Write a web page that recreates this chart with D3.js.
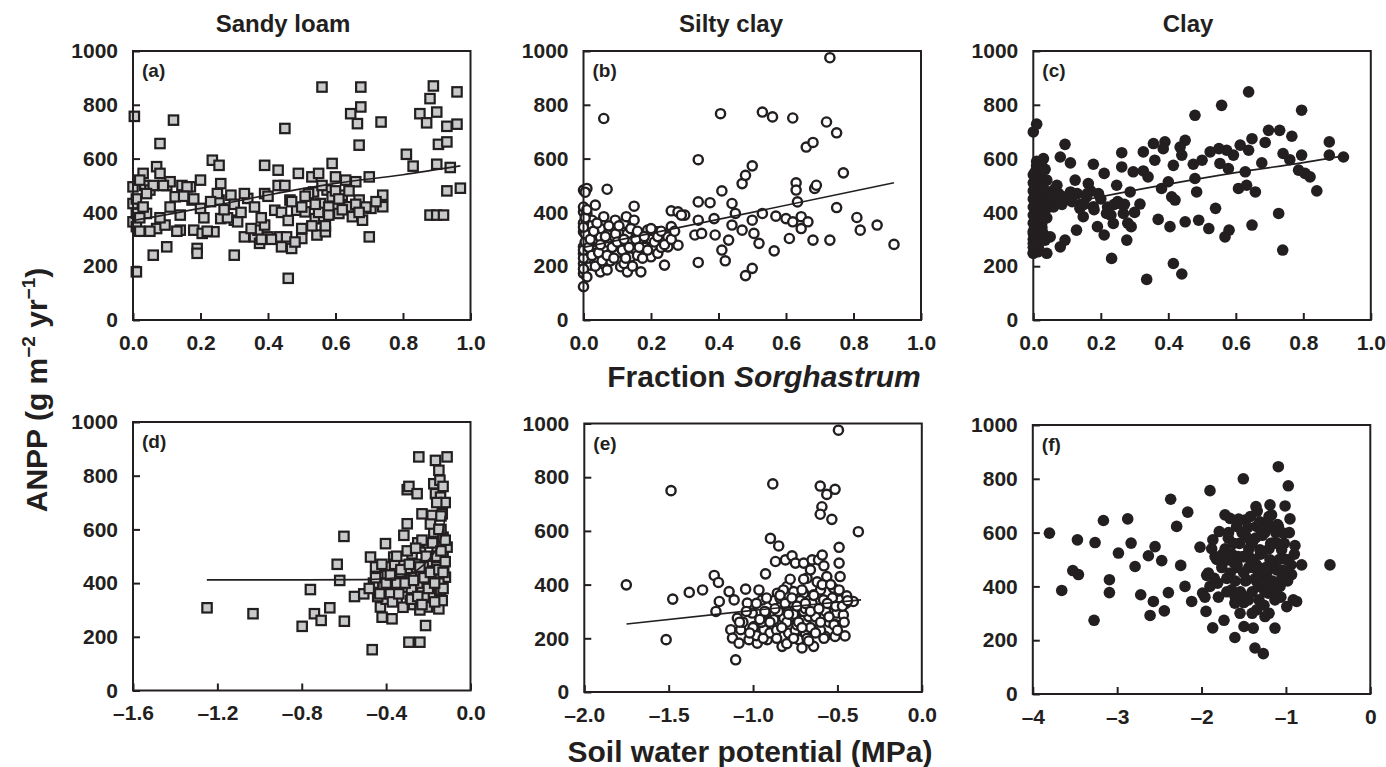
<!DOCTYPE html>
<html>
<head>
<meta charset="utf-8">
<script src="https://cdn.jsdelivr.net/npm/d3@7"></script>
<style>
  html, body { margin: 0; padding: 0; background: #fff; }
  svg { display: block; font-family: "Liberation Sans", Arial, Helvetica, sans-serif; }
</style>
</head>
<body>
<svg id="chart" width="1386" height="767"></svg>
<script>
// ---------------- DATA ----------------
const soilTypes = ["Sandy loam", "Silty clay", "Clay"];
const panelLetters = ["(a)", "(b)", "(c)", "(d)", "(e)", "(f)"];
const yTickValues = [0, 200, 400, 600, 800, 1000];
const yTickLabels = ["0", "200", "400", "600", "800", "1000"];
const fracTickValues = [0, 0.2, 0.4, 0.6, 0.8, 1.0];
const fracTickLabels = ["0.0", "0.2", "0.4", "0.6", "0.8", "1.0"];
const swpSandyTickValues = [-1.6, -1.2, -0.8, -0.4, 0.0];
const swpSandyTickLabels = ["–1.6", "–1.2", "–0.8", "–0.4", "0.0"];
const swpSiltyTickValues = [-2.0, -1.5, -1.0, -0.5, 0.0];
const swpSiltyTickLabels = ["–2.0", "–1.5", "–1.0", "–0.5", "0.0"];
const swpClayTickValues = [-4, -3, -2, -1, 0];
const swpClayTickLabels = ["–4", "–3", "–2", "–1", "0"];

// (a) Sandy loam: fraction Sorghastrum vs ANPP
const sandyFracX = [0.004,0.01,0,0,0,0.01,0.01,0.03,0.035,0.04,0.05,0.06,0.07,0.08,0.08,0.07,0.095,0.10,0.10,0.12,0.11,0.125,0.14,0.145,0.17,0.175,0.18,0.19,0.19,0.2,0.2,0.205,0.24,0.235,0.255,0.26,0.255,0.26,0.29,0.3,0.3,0.31,0.33,0.34,0.36,0.37,0.375,0.39,0.39,0.39,0.40,0.42,0.43,0.43,0.435,0.44,0.45,0.455,0.46,0.465,0.47,0.485,0.49,0.5,0.5,0.51,0.53,0.535,0.54,0.545,0.55,0.555,0.56,0.565,0.57,0.575,0.59,0.59,0.60,0.60,0.61,0.62,0.64,0.645,0.65,0.66,0.665,0.67,0.67,0.675,0.675,0.68,0.70,0.70,0.705,0.735,0.74,0.74,0.81,0.83,0.85,0.87,0.88,0.89,0.90,0.90,0.905,0.93,0.93,0.93,0.94,0.96,0.96,0.97,0.88,0.90,0.92,0.02,0.06,0.09,0.16,0.02,0.05,0.13,0.15,0.22,0.25,0.28,0.35,0.38,0.41,0.45,0.47,0.52,0.55,0.58,0.6,0.62,0.57,0.66,0.69,0.02,0.27,0.33,0.48,0.53,0.63,
  0.01,0.03,0.04,0.08,0.11,0.14,0.18,0.21,0.23,0.3,0.32,0.36,0.38,0.4,0.44,0.46,0.5,0.51,0.54,0.56,0.58,0.61,0.64,0.67,0.72];
const sandyFracY = [757,179,495,433,365,396,347,545,500,396,483,241,570,545,656,340,353,272,500,743,514,458,334,500,495,446,334,266,248,520,415,322,328,594,575,507,446,377,464,371,241,365,309,452,309,334,285,575,470,353,309,408,557,500,309,272,712,309,155,446,266,408,545,340,303,402,532,476,377,316,545,433,866,377,328,483,582,458,532,421,396,464,421,767,384,514,730,650,446,866,792,371,532,309,415,736,464,421,616,572,767,733,823,870,773,579,653,662,720,480,567,848,728,490,390,390,390,520,500,500,495,330,330,330,460,330,470,380,340,300,300,500,440,470,400,420,480,410,350,430,420,380,410,470,290,350,520,
  450,420,470,380,420,390,450,380,440,430,400,420,380,460,400,370,420,460,430,500,390,450,480,400,440];
const sandyFracFitX = [0, 0.2, 0.4, 0.6, 0.8, 0.97];
const sandyFracFitY = [370, 415, 465, 508, 540, 573];

// (b) Silty clay
const siltyFracX = [0,0,0.01,0,0.01,0,0,0,0,0,0.01,0.02,0.025,0.035,0.04,0.05,0.05,0.06,0.06,0.064,0.07,0.07,0.08,0.084,0.094,0.104,0.11,0.114,0.12,0.127,0.13,0.14,0.15,0.15,0.155,0.163,0.17,0.173,0.19,0.20,0.22,0.22,0.24,0.25,0.25,0.26,0.26,0.28,0.28,0.30,0.33,0.34,0.34,0.34,0.34,0.35,0.375,0.387,0.39,0.406,0.41,0.41,0.42,0.43,0.44,0.44,0.45,0.47,0.47,0.48,0.48,0.50,0.50,0.50,0.505,0.52,0.53,0.53,0.56,0.565,0.57,0.60,0.61,0.62,0.62,0.63,0.63,0.634,0.645,0.645,0.66,0.665,0.68,0.68,0.685,0.69,0.72,0.73,0.73,0.75,0.75,0.77,0.81,0.82,0.87,0.92,0.01,0.02,0.03,0.02,0.05,0.06,0.08,0.09,0.1,0.12,0.13,0.14,0.16,0.17,0.18,0.2,0.21,0.23,0,0,0,0.01,0.005,0.03,0.04,0.07,0.11,0.01,
  0.0,0.0,0.005,0.005,0.0,0.005,0.01,0.015,0.02,0.025,0.03,0.035,0.04,0.045,0.05,0.055,0.065,0.07,0.075,0.085,0.09,0.095,0.1,0.105,0.115,0.12,0.125,0.135,0.14,0.145,0.155,0.16,0.165,0.175,0.18,0.19,0.2,0.21,0.22,0.23,0.24,0.26,0.27,0.29];
const siltyFracY = [124,483,489,402,396,328,272,210,173,248,223,204,371,427,297,309,179,384,749,204,486,186,260,347,371,322,198,285,359,384,179,235,423,371,260,309,179,260,334,235,328,248,204,309,272,347,406,402,278,390,316,439,371,596,214,322,436,377,316,767,480,260,220,297,433,353,396,507,334,538,165,573,192,371,322,285,396,773,755,257,386,377,303,365,751,510,483,439,384,340,643,365,660,297,489,501,736,297,975,696,418,547,381,334,353,281,300,350,260,230,340,270,220,300,250,210,320,290,240,300,270,300,330,270,360,420,190,160,475,330,250,290,270,230,
  230,260,290,320,345,380,410,270,300,240,330,200,360,250,280,220,310,240,350,270,230,320,290,350,260,300,230,270,340,200,300,330,270,230,310,260,340,290,310,330,280,300,330,390];
const siltyFracFitX = [0, 0.92];
const siltyFracFitY = [270, 510];

// (c) Clay
const clayFracX = [0,0.01,0,0.015,0,0.01,0.03,0.025,0.035,0.04,0.05,0.05,0.06,0.07,0.08,0.08,0.09,0.094,0.094,0.11,0.11,0.124,0.128,0.138,0.148,0.158,0.163,0.178,0.178,0.19,0.193,0.21,0.21,0.217,0.232,0.237,0.247,0.257,0.262,0.262,0.267,0.277,0.287,0.29,0.296,0.316,0.326,0.326,0.336,0.34,0.356,0.36,0.37,0.38,0.385,0.39,0.4,0.405,0.41,0.415,0.415,0.42,0.435,0.44,0.44,0.45,0.45,0.474,0.479,0.479,0.484,0.49,0.5,0.52,0.524,0.54,0.55,0.553,0.558,0.568,0.573,0.578,0.58,0.593,0.608,0.613,0.628,0.632,0.638,0.638,0.648,0.648,0.658,0.677,0.687,0.697,0.727,0.73,0.74,0.739,0.76,0.766,0.786,0.795,0.795,0.805,0.82,0.84,0.877,0.877,0.919,0,0,0,0,0,0,0,0,0,0.01,0.01,0.01,0.01,0.01,0.02,0.02,0.02,0.02,0.03,0.03,0.04,0.04,0.005,0.005,0.015,0.015,0.025,0.035,0.06,0.07,0.12,0.14,0.17,0.22,0.25,0.3,
  0,0,0,0.005,0.005,0.005,0.01,0.005,0.01,0.005,0.01,0.005,0.01,0.015,0.015,0.02,0.02,0.025,0.02,0.03,0.03,0.035,0.04,0.045,0.05,0.06,0.065,0.075,0.085,0.1,0.115,0.13,0.15,0.16,0.18,0.2,0.23,0.24,0.27,0.28,0.015,0.025,0.01,0.035];
const clayFracY = [699,728,248,254,322,384,600,347,297,248,309,421,483,501,272,606,452,653,297,584,476,520,334,415,384,458,507,579,421,347,470,545,316,396,229,359,501,433,622,569,396,297,476,347,551,431,625,554,151,532,656,594,374,489,637,662,514,347,458,575,210,446,643,171,613,668,365,579,761,526,476,371,594,340,625,415,637,582,798,309,631,563,334,613,489,650,551,501,848,631,674,353,476,584,660,705,396,705,619,260,596,683,557,613,780,545,532,480,662,613,606,300,330,360,390,420,450,480,510,540,570,590,310,350,400,440,490,530,560,320,460,380,520,290,430,470,500,360,410,440,450,470,430,480,420,440,400,
  250,270,285,310,340,370,395,430,460,490,520,550,575,500,460,420,380,340,300,450,490,410,470,430,460,420,450,470,430,460,440,470,430,470,410,450,390,430,430,360,270,590,300,560];
const clayFracFitX = [0, 0.2, 0.4, 0.6, 0.8, 0.92];
const clayFracFitY = [405, 458, 505, 548, 585, 610];

// (d) Sandy loam: soil water potential vs ANPP
const sandySwpX = [-1.249,-1.031,-0.798,-0.759,-0.74,-0.708,-0.667,-0.632,-0.62,-0.6,-0.598,-0.55,-0.506,-0.474,-0.466,-0.458,-0.45,-0.427,-0.419,-0.403,-0.403,-0.395,-0.387,-0.372,-0.372,-0.364,-0.348,-0.34,-0.324,-0.316,-0.308,-0.3,-0.3,-0.292,-0.292,-0.285,-0.277,-0.269,-0.261,-0.253,-0.245,-0.24,-0.237,-0.23,-0.23,-0.221,-0.213,-0.205,-0.197,-0.19,-0.187,-0.182,-0.174,-0.174,-0.166,-0.166,-0.158,-0.15,-0.15,-0.145,-0.142,-0.142,-0.134,-0.13,-0.13,-0.127,-0.119,-0.111,-0.111,-0.134,-0.35,-0.3,-0.25,-0.2,-0.28,-0.22,-0.32,-0.4,-0.44,-0.36,-0.26,-0.18,-0.16,-0.15,-0.13,-0.27,-0.24,-0.17,-0.2,-0.14,-0.25,-0.3,-0.21,-0.33,-0.38,-0.46,-0.23,-0.19,-0.12,-0.28,
  -0.48,-0.45,-0.43,-0.42,-0.4,-0.38,-0.37,-0.35,-0.34,-0.33,-0.31,-0.29,-0.28,-0.27,-0.26,-0.25,-0.24,-0.23,-0.22,-0.21,-0.2,-0.19,-0.18,-0.17,-0.16,-0.15,-0.14,-0.13,-0.12,-0.12,-0.14,-0.16,-0.13,-0.15];
const sandySwpY = [308,286,239,376,286,261,308,470,410,574,258,350,360,497,152,385,460,311,273,547,460,429,398,267,360,497,335,422,466,578,385,621,748,760,180,335,509,435,329,733,870,180,534,658,385,466,242,311,497,360,410,652,770,590,733,857,534,820,304,783,720,373,658,571,497,453,422,870,534,335,400,450,400,430,380,350,310,340,350,470,470,480,460,400,380,320,300,330,550,600,550,520,420,440,360,400,560,620,700,420,
  380,420,360,470,400,430,330,500,360,450,400,470,340,410,530,350,460,320,420,500,380,440,550,400,500,450,520,440,560,480,650,700,760,600];
const sandySwpFitX = [-1.25, -0.8, -0.5, -0.35, -0.28, -0.22, -0.18, -0.15, -0.13, -0.12];
const sandySwpFitY = [412, 412, 413, 420, 436, 470, 505, 545, 600, 650];

// (e) Silty clay
const siltySwpX = [-1.751,-1.515,-1.486,-1.476,-1.378,-1.299,-1.23,-1.22,-1.205,-1.2,-1.142,-1.132,-1.122,-1.112,-1.103,-1.093,-1.083,-1.073,-1.044,-1.034,-1.024,-1.005,-0.995,-0.975,-0.965,-0.946,-0.936,-0.926,-0.926,-0.916,-0.897,-0.883,-0.877,-0.867,-0.856,-0.848,-0.838,-0.828,-0.818,-0.808,-0.799,-0.789,-0.779,-0.769,-0.759,-0.749,-0.74,-0.73,-0.72,-0.71,-0.7,-0.7,-0.69,-0.68,-0.67,-0.66,-0.65,-0.641,-0.641,-0.622,-0.612,-0.602,-0.602,-0.592,-0.602,-0.59,-0.582,-0.573,-0.563,-0.563,-0.543,-0.533,-0.524,-0.514,-0.514,-0.504,-0.494,-0.49,-0.484,-0.49,-0.484,-0.465,-0.455,-0.445,-0.406,-0.376,-0.95,-0.85,-0.9,-0.8,-0.75,-0.7,-0.65,-0.6,-0.55,-0.72,-0.78,-0.68,-0.62,-0.57,-1.0,-0.88,-0.82,-0.93,-0.76,-0.66,-0.53,-0.6,-0.7,-0.58,-1.06,-0.98,-0.86,-0.74,-0.63,-0.51,-0.45,-0.84,-0.69,
  -1.08,-1.04,-1.02,-0.98,-0.96,-0.94,-0.92,-0.9,-0.87,-0.86,-0.84,-0.83,-0.81,-0.8,-0.79,-0.77,-0.76,-0.74,-0.73,-0.71,-0.71,-0.69,-0.67,-0.66,-0.64,-0.63,-0.61,-0.6,-0.59,-0.58,-0.56,-0.55,-0.54,-0.52,-0.51,-0.49,-0.47,-0.46,-0.44,-0.5];
const siltySwpY = [399,195,750,346,371,380,434,300,408,337,374,232,201,343,120,275,182,232,383,331,195,294,244,182,380,343,232,440,294,195,572,775,269,486,368,544,318,170,275,492,393,219,331,507,374,480,257,195,300,164,368,480,219,424,281,455,492,170,362,232,492,767,275,690,662,510,343,207,430,736,294,643,387,207,755,294,975,539,430,480,343,287,209,358,337,597,260,300,220,260,230,300,330,380,260,340,420,200,410,300,240,340,380,300,290,240,350,230,420,470,260,210,230,250,280,250,330,350,310,
  260,300,220,330,270,200,350,260,310,200,360,240,330,180,290,350,200,320,260,380,240,330,190,300,360,220,310,260,400,200,330,280,400,250,320,380,320,260,340,230];
const siltySwpFitX = [-1.75, -1.0, -0.36];
const siltySwpFitY = [253, 304, 343];

// (f) Clay
const claySwpX = [-3.803,-3.657,-3.526,-3.471,-3.459,-3.274,-3.262,-3.163,-3.092,-3.092,-2.985,-2.875,-2.835,-2.788,-2.721,-2.63,-2.61,-2.571,-2.551,-2.472,-2.441,-2.393,-2.366,-2.295,-2.247,-2.196,-2.164,-2.117,-2.018,-1.987,-1.947,-1.939,-1.9,-1.866,-1.868,-1.84,-1.81,-1.79,-1.734,-1.722,-1.702,-1.683,-1.663,-1.643,-1.605,-1.605,-1.584,-1.566,-1.544,-1.505,-1.505,-1.497,-1.485,-1.465,-1.445,-1.426,-1.406,-1.387,-1.367,-1.355,-1.347,-1.347,-1.327,-1.308,-1.288,-1.268,-1.248,-1.228,-1.209,-1.189,-1.189,-1.17,-1.15,-1.13,-1.13,-1.11,-1.09,-1.09,-1.07,-1.051,-1.031,-1.01,-0.99,-0.972,-0.972,-0.952,-0.933,-0.913,-0.893,-0.873,-0.814,-0.478,-1.5,-1.45,-1.4,-1.35,-1.3,-1.25,-1.2,-1.4,-1.55,-1.6,-1.7,-1.75,-1.35,-1.3,-1.15,-1.05,-1.0,-1.45,-1.25,-1.1,-1.5,-1.2,-1.8,-1.9,-1.58,-1.42,-1.28,-1.18,-1.62,-1.38,-1.48,-1.22,
  -1.62,-1.58,-1.52,-1.48,-1.44,-1.42,-1.38,-1.36,-1.33,-1.31,-1.27,-1.24,-1.21,-1.18,-1.16,-1.12,-1.08,-1.04,-1.02,-0.98,-0.96,-1.66,-1.68,-1.72,-1.76,-1.82,-1.85,-1.88,-1.54,-1.46,-1.4,-1.32,-1.26,-1.14,-1.06,-0.94,-0.9,-1.56,-1.34,-1.2,-1.1,-1.64,-1.5,-1.36,-1.22,-1.28,-1.44,-1.6,-1.7,-1.92,-1.96];
const claySwpY = [598,385,459,573,444,274,563,645,425,377,524,651,561,474,369,514,292,344,548,496,309,377,724,623,478,400,676,344,546,375,307,441,756,573,246,511,412,604,274,666,498,579,653,387,338,210,623,511,300,800,511,251,647,424,350,573,486,245,171,697,313,623,400,536,598,150,288,449,375,703,499,666,561,245,350,461,845,623,400,536,598,699,325,774,499,651,444,350,552,344,480,480,450,520,560,480,440,600,540,380,560,420,430,520,420,520,480,430,500,620,380,560,340,300,360,400,470,500,460,410,490,470,590,640,
  560,480,600,420,540,660,500,580,460,640,530,470,620,560,420,600,500,460,560,420,600,450,600,540,470,500,430,540,380,360,300,350,330,380,360,480,520,650,680,660,630,520,510,430,410,590,470,360,380,450,360];

const lineColor = "#231f20";
const squareFill = "#c8c9cb";

// ---------------- LAYOUT ----------------
const svg = d3.select("#chart");
const W = 337.5;

const panels = [
  {letter: panelLetters[0], left: 133, top: 51, h: 269, xDomain: [0, 1], tv: fracTickValues, tl: fracTickLabels, marker: "square", xs: sandyFracX, ys: sandyFracY, fx: sandyFracFitX, fy: sandyFracFitY},
  {letter: panelLetters[1], left: 583.5, top: 51, h: 269, xDomain: [0, 1], tv: fracTickValues, tl: fracTickLabels, marker: "open", xs: siltyFracX, ys: siltyFracY, fx: siltyFracFitX, fy: siltyFracFitY},
  {letter: panelLetters[2], left: 1033.3, top: 51, h: 269, xDomain: [0, 1], tv: fracTickValues, tl: fracTickLabels, marker: "filled", xs: clayFracX, ys: clayFracY, fx: clayFracFitX, fy: clayFracFitY},
  {letter: panelLetters[3], left: 133, top: 422, h: 268.5, xDomain: [-1.6, 0], tv: swpSandyTickValues, tl: swpSandyTickLabels, marker: "square", xs: sandySwpX, ys: sandySwpY, fx: sandySwpFitX, fy: sandySwpFitY},
  {letter: panelLetters[4], left: 584.3, top: 423.5, h: 268.5, xDomain: [-2, 0], tv: swpSiltyTickValues, tl: swpSiltyTickLabels, marker: "open", xs: siltySwpX, ys: siltySwpY, fx: siltySwpFitX, fy: siltySwpFitY},
  {letter: panelLetters[5], left: 1032.8, top: 425, h: 269, xDomain: [-4, 0], tv: swpClayTickValues, tl: swpClayTickLabels, marker: "filled", xs: claySwpX, ys: claySwpY, fx: null, fy: null}
];

panels.forEach(p => {
  const g = svg.append("g").attr("transform", `translate(${p.left},${p.top})`);
  const x = d3.scaleLinear().domain(p.xDomain).range([0, W]);
  const y = d3.scaleLinear().domain([0, 1000]).range([p.h, 0]);

  const xa = g.append("g").attr("transform", `translate(0,${p.h})`)
    .call(d3.axisBottom(x).tickValues(p.tv).tickSizeInner(-7).tickSizeOuter(0).tickPadding(15)
      .tickFormat((d, i) => p.tl[i]));
  const ya = g.append("g")
    .call(d3.axisLeft(y).tickValues(yTickValues).tickSizeInner(-7).tickSizeOuter(0).tickPadding(15)
      .tickFormat((d, i) => yTickLabels[i]));
  [xa, ya].forEach(a => {
    a.select(".domain").remove();
    a.selectAll("line").attr("stroke", lineColor).attr("stroke-width", 2);
    a.selectAll("text").attr("fill", lineColor).style("font-size", "21px").style("font-weight", "bold");
  });

  const pts = p.xs.map((v, i) => [v, p.ys[i]]);
  if (p.marker === "square") {
    const s = 9.4;
    g.append("g").selectAll("rect").data(pts).join("rect")
      .attr("x", d => x(d[0]) - s / 2).attr("y", d => y(d[1]) - s / 2)
      .attr("width", s).attr("height", s)
      .attr("fill", squareFill).attr("stroke", lineColor).attr("stroke-width", 2.2);
  } else if (p.marker === "open") {
    g.append("g").selectAll("circle").data(pts).join("circle")
      .attr("cx", d => x(d[0])).attr("cy", d => y(d[1])).attr("r", 4.6)
      .attr("fill", "#fff").attr("stroke", lineColor).attr("stroke-width", 2.4);
  } else {
    g.append("g").selectAll("circle").data(pts).join("circle")
      .attr("cx", d => x(d[0])).attr("cy", d => y(d[1])).attr("r", 5.8)
      .attr("fill", lineColor);
  }

  if (p.fx) {
    const fit = p.fx.map((v, i) => [v, p.fy[i]]);
    g.append("path").datum(fit)
      .attr("d", d3.line().x(d => x(d[0])).y(d => y(d[1])).curve(d3.curveMonotoneX))
      .attr("fill", "none").attr("stroke", lineColor).attr("stroke-width", 1.6);
  }

  g.append("rect").attr("x", 0).attr("y", 0).attr("width", W).attr("height", p.h)
    .attr("fill", "none").attr("stroke", lineColor).attr("stroke-width", 2);

  g.append("text").attr("x", 9).attr("y", 26).text(p.letter)
    .attr("fill", lineColor).style("font-size", "19px").style("font-weight", "bold");
});

const titleX = [283, 731, 1188];
soilTypes.forEach((t, i) => {
  svg.append("text").attr("x", titleX[i]).attr("y", 32).attr("text-anchor", "middle")
    .attr("fill", lineColor).style("font-size", "24px").style("font-weight", "bold").text(t);
});

const xt1 = svg.append("text").attr("x", 764).attr("y", 387).attr("text-anchor", "middle")
  .attr("fill", lineColor).style("font-size", "30px").style("font-weight", "bold");
xt1.append("tspan").text("Fraction ");
xt1.append("tspan").style("font-style", "italic").text("Sorghastrum");

svg.append("text").attr("x", 750).attr("y", 762).attr("text-anchor", "middle")
  .attr("fill", lineColor).style("font-size", "30px").style("font-weight", "bold")
  .text("Soil water potential (MPa)");

const yt = svg.append("text").attr("transform", "translate(47,390) rotate(-90)")
  .attr("text-anchor", "middle").attr("fill", lineColor)
  .style("font-size", "30px").style("font-weight", "bold");
yt.append("tspan").text("ANPP (g m");
yt.append("tspan").attr("dy", "-12").style("font-size", "19px").text("−2");
yt.append("tspan").attr("dy", "12").text(" yr");
yt.append("tspan").attr("dy", "-12").style("font-size", "19px").text("−1");
yt.append("tspan").attr("dy", "12").text(")");
</script>
</body>
</html>
